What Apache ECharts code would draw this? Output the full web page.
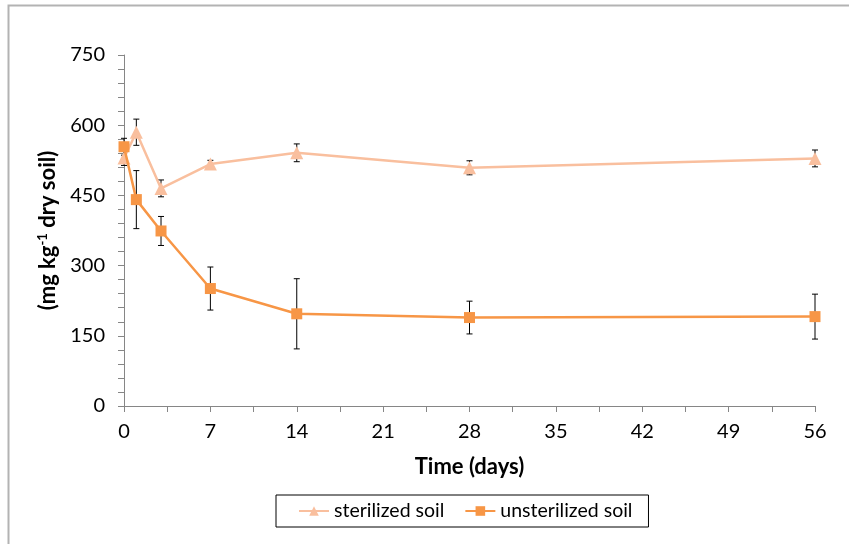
<!DOCTYPE html>
<html>
<head>
<meta charset="utf-8">
<script src="https://cdn.jsdelivr.net/npm/echarts@6/dist/echarts.min.js"></script>
<style>
html,body{margin:0;padding:0;background:#fff;}
#chart{width:849px;height:544px;}
</style>
</head>
<body>
<div id="chart"></div>
<script>
var days = [0, 1, 3, 7, 14, 28, 56];
var sterilized = [530, 585, 465, 517, 541, 509, 529];
var sterilizedErr = [16, 28, 18, 8, 19, 15, 18];
var unsterilized = [554, 441, 374, 251, 197, 189, 191];
var unsterilizedErr = [18, 62, 31, 46, 75, 35, 48];
var seriesNames = ['sterilized soil', 'unsterilized soil'];

var FONT = 'Lato, "Open Sans", sans-serif';
var cSter = '#F9BF9E';
var cUnst = '#F79646';

function pairs(vals) { return days.map(function (d, i) { return [d, vals[i]]; }); }
function errData(vals, errs) { return days.map(function (d, i) { return [d, vals[i] - errs[i], vals[i] + errs[i]]; }); }

function errRender(params, api) {
  var x = api.value(0);
  var lo = api.coord([x, api.value(1)]);
  var hi = api.coord([x, api.value(2)]);
  var cap = 3;
  var st = { stroke: '#000', lineWidth: 1 };
  return {
    type: 'group',
    children: [
      { type: 'line', shape: { x1: lo[0], y1: lo[1], x2: hi[0], y2: hi[1] }, style: st },
      { type: 'line', shape: { x1: lo[0] - cap, y1: lo[1], x2: lo[0] + cap, y2: lo[1] }, style: st },
      { type: 'line', shape: { x1: hi[0] - cap, y1: hi[1], x2: hi[0] + cap, y2: hi[1] }, style: st }
    ]
  };
}

var chart = echarts.init(document.getElementById('chart'), null, { renderer: 'canvas' });
chart.setOption({
  animation: false,
  backgroundColor: '#fff',
  graphic: [{
    type: 'rect', silent: true, z: -1,
    shape: { x: 8.5, y: 5.5, width: 860, height: 560 },
    style: { fill: 'none', stroke: '#B3B3B3', lineWidth: 2 }
  }],
  grid: { left: 124, right: 34, top: 55, bottom: 138, containLabel: false },
  legend: {
    data: seriesNames,
    left: 276,
    top: 495,
    padding: [6, 16, 6, 22],
    borderColor: '#000',
    borderWidth: 1,
    itemGap: 20,
    itemWidth: 30,
    itemHeight: 12,
    textStyle: { fontFamily: FONT, fontSize: 19.5, color: '#000' }
  },
  xAxis: {
    type: 'value', min: 0, max: 56, interval: 7,
    name: 'Time (days)', nameLocation: 'middle', nameGap: 50,
    nameTextStyle: { fontFamily: FONT, fontSize: 22, fontWeight: 'bold', color: '#000' },
    axisLine: { show: true, lineStyle: { color: '#868686', width: 1 } },
    axisTick: { show: true, length: 6, lineStyle: { color: '#868686' } },
    minorTick: { show: true, splitNumber: 2, length: 6, lineStyle: { color: '#868686' } },
    splitLine: { show: false },
    axisLabel: { fontFamily: FONT, fontSize: 20, color: '#000', margin: 16 }
  },
  yAxis: {
    type: 'value', min: 0, max: 750, interval: 150,
    name: '(mg kg{sup|-1} dry soil)', nameLocation: 'middle', nameGap: 64, nameRotate: 90,
    nameTextStyle: {
      fontFamily: FONT, fontSize: 22, fontWeight: 'bold', color: '#000',
      rich: { sup: { fontFamily: FONT, fontSize: 13, fontWeight: 'bold', color: '#000', verticalAlign: 'top', padding: [0, 0, 10, 0] } }
    },
    axisLine: { show: true, lineStyle: { color: '#868686', width: 1 } },
    axisTick: { show: true, length: 6, lineStyle: { color: '#868686' } },
    minorTick: { show: true, splitNumber: 5, length: 6, lineStyle: { color: '#868686' } },
    splitLine: { show: false },
    axisLabel: { fontFamily: FONT, fontSize: 20, color: '#000', margin: 19 }
  },
  series: [
    {
      type: 'custom', renderItem: errRender, data: errData(sterilized, sterilizedErr),
      encode: { x: 0, y: [1, 2] }, z: 1, silent: true
    },
    {
      type: 'custom', renderItem: errRender, data: errData(unsterilized, unsterilizedErr),
      encode: { x: 0, y: [1, 2] }, z: 1, silent: true
    },
    {
      name: seriesNames[0], type: 'line', data: pairs(sterilized), z: 3,
      symbol: 'triangle', symbolSize: 13,
      lineStyle: { color: cSter, width: 2.5 },
      itemStyle: { color: cSter }
    },
    {
      name: seriesNames[1], type: 'line', data: pairs(unsterilized), z: 4,
      symbol: 'rect', symbolSize: 11,
      lineStyle: { color: cUnst, width: 2.5 },
      itemStyle: { color: cUnst }
    }
  ]
});
</script>
</body>
</html>
